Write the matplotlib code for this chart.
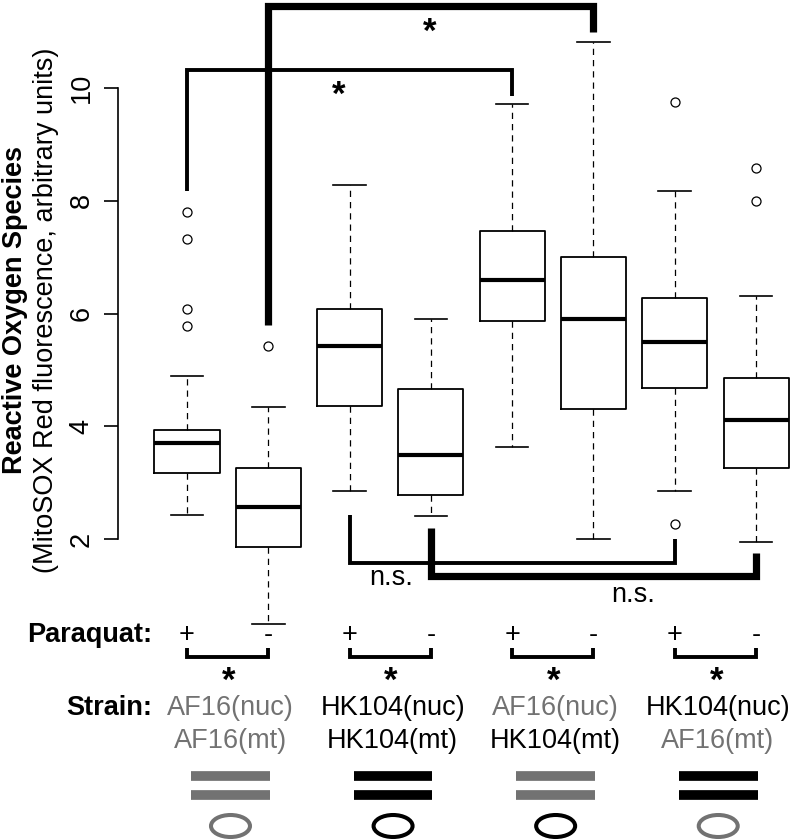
import matplotlib
matplotlib.use('Agg')
import matplotlib.pyplot as plt
from matplotlib.patches import Ellipse

plt.rcParams['font.family'] = ['Liberation Sans', 'DejaVu Sans']

# ---------------- data ----------------
positions = [1, 2, 3, 4, 5, 6, 7, 8]
paraquat = ['+', '-', '+', '-', '+', '-', '+', '-']
medians = [3.70, 2.57, 5.42, 3.49, 6.59, 5.90, 5.49, 4.11]
q1 = [3.17, 1.86, 4.36, 2.78, 5.87, 4.31, 4.68, 3.26]
q3 = [3.93, 3.26, 6.08, 4.66, 7.46, 7.00, 6.27, 4.85]
whislo = [2.43, 0.49, 2.85, 2.41, 3.63, 2.00, 2.85, 1.95]
whishi = [4.89, 4.34, 8.28, 5.90, 9.71, 10.81, 8.17, 6.31]
fliers = [[7.80, 7.32, 6.08, 5.78], [5.42], [], [], [], [], [9.75, 2.27], [8.58, 7.99]]
yticks = [2, 4, 6, 8, 10]
nuc_strain = ['AF16', 'HK104', 'AF16', 'HK104']
mt_strain = ['AF16', 'HK104', 'HK104', 'AF16']
# significance brackets: (start group, end group, start y, bar y, end y, thick?, label)
brackets = [
    (1, 5, 8.17, 10.32, 9.86, False, '*'),
    (2, 6, 5.80, 11.45, 11.00, True, '*'),
    (3, 7, 2.43, 1.58, 2.00, False, 'n.s.'),
    (4, 8, 2.20, 1.35, 1.76, True, 'n.s.'),
]

# ---------------- layout ----------------
W, H = 791, 840
fig = plt.figure(figsize=(W / 100, H / 100), dpi=100)
ax = fig.add_axes([0, 0, 1, 1])
ax.patch.set_visible(False)

XPX1, XSC = 187.0, 81.29
YPX10, YSC = 88.0, 56.4
def dx(px):
    return 1 + (px - XPX1) / XSC
def dy(py):
    return 10 - (py - YPX10) / YSC

ax.set_xlim(dx(0), dx(W))
ax.set_ylim(dy(H), dy(0))

GRAY = '#727272'
col = {'AF16': GRAY, 'HK104': 'black'}
FS = 19.5
STAR_FS = 25

stats = [dict(med=m, q1=a, q3=b, whislo=lo, whishi=hi, fliers=f)
         for m, a, b, lo, hi, f in zip(medians, q1, q3, whislo, whishi, fliers)]
ax.bxp(stats, positions=positions, widths=0.8, capwidths=0.4, showfliers=True,
       boxprops=dict(color='black', linewidth=1.3),
       medianprops=dict(color='black', linewidth=3.0, solid_capstyle='butt'),
       whiskerprops=dict(color='black', linewidth=0.9, linestyle=(0, (5, 4))),
       capprops=dict(color='black', linewidth=1.2),
       flierprops=dict(marker='o', markerfacecolor='none', markeredgecolor='black',
                       markersize=6.5, markeredgewidth=0.9),
       manage_ticks=False)

for s in ['top', 'right', 'bottom']:
    ax.spines[s].set_visible(False)
ax.spines['left'].set_position(('data', dx(118)))
ax.spines['left'].set_bounds(2, 10)
ax.spines['left'].set_linewidth(1.2)
ax.set_xticks([])
ax.set_yticks(yticks)
ax.set_yticklabels([str(t) for t in yticks], rotation=90, va='center')
ax.tick_params(axis='y', length=10, width=1.2, pad=7, labelsize=FS)

fig.text(22 / W, 1 - 310 / H, 'Reactive Oxygen Species', rotation=90,
         rotation_mode='anchor', ha='center', va='baseline', fontweight='bold', fontsize=FS)
fig.text(53 / W, 1 - 310 / H, '(MitoSOX Red fluorescence, arbitrary units)', rotation=90,
         rotation_mode='anchor', ha='center', va='baseline', fontsize=FS)

# significance brackets
label_pos = [(339, 105), (430, 42), (391, 585), (633, 602)]
for (s, e, y0, ym, y1, thick, lab), (lx, ly) in zip(brackets, label_pos):
    ax.plot([s, s, e, e], [y0, ym, ym, y1], color='black', lw=5.2 if thick else 2.8,
            solid_joinstyle='miter', solid_capstyle='butt', clip_on=False)
    if lab == '*':
        ax.text(dx(lx), dy(ly), lab, ha='center', va='baseline', fontsize=STAR_FS,
                fontweight='bold')
    else:
        ax.text(dx(lx), dy(ly), lab, ha='center', va='baseline', fontsize=FS)

# paraquat row
ax.text(dx(152), dy(642), 'Paraquat:', ha='right', va='baseline', fontweight='bold', fontsize=FS)
for p, sym in zip(positions, paraquat):
    ax.text(p, dy(642), sym, ha='center', va='baseline', fontsize=FS)

# strain rows
ax.text(dx(152), dy(715), 'Strain:', ha='right', va='baseline', fontweight='bold', fontsize=FS)
for k in range(4):
    a, b = positions[2 * k], positions[2 * k + 1]
    c = (a + b) / 2
    ax.plot([a, a, b, b], [dy(648), dy(657), dy(657), dy(648)], color='black', lw=2.8,
            solid_joinstyle='miter', solid_capstyle='butt')
    ax.text(c + 0.01, dy(691), '*', ha='center', va='baseline', fontsize=STAR_FS,
            fontweight='bold')
    ax.text(c + 0.03, dy(715), nuc_strain[k] + '(nuc)', ha='center', va='baseline',
            fontsize=FS, color=col[nuc_strain[k]])
    ax.text(c + 0.03, dy(748), mt_strain[k] + '(mt)', ha='center', va='baseline',
            fontsize=FS, color=col[mt_strain[k]])
    for yb in (775.5, 795):
        ax.plot([a + 0.05, b + 0.02], [dy(yb), dy(yb)], color=col[nuc_strain[k]], lw=7,
                solid_capstyle='butt')
    ax.add_patch(Ellipse((c + 0.035, dy(826)), width=39 / XSC, height=22 / YSC, fill=False,
                         edgecolor=col[mt_strain[k]], lw=2.9, clip_on=False))

fig.savefig('out.png', dpi=100)
